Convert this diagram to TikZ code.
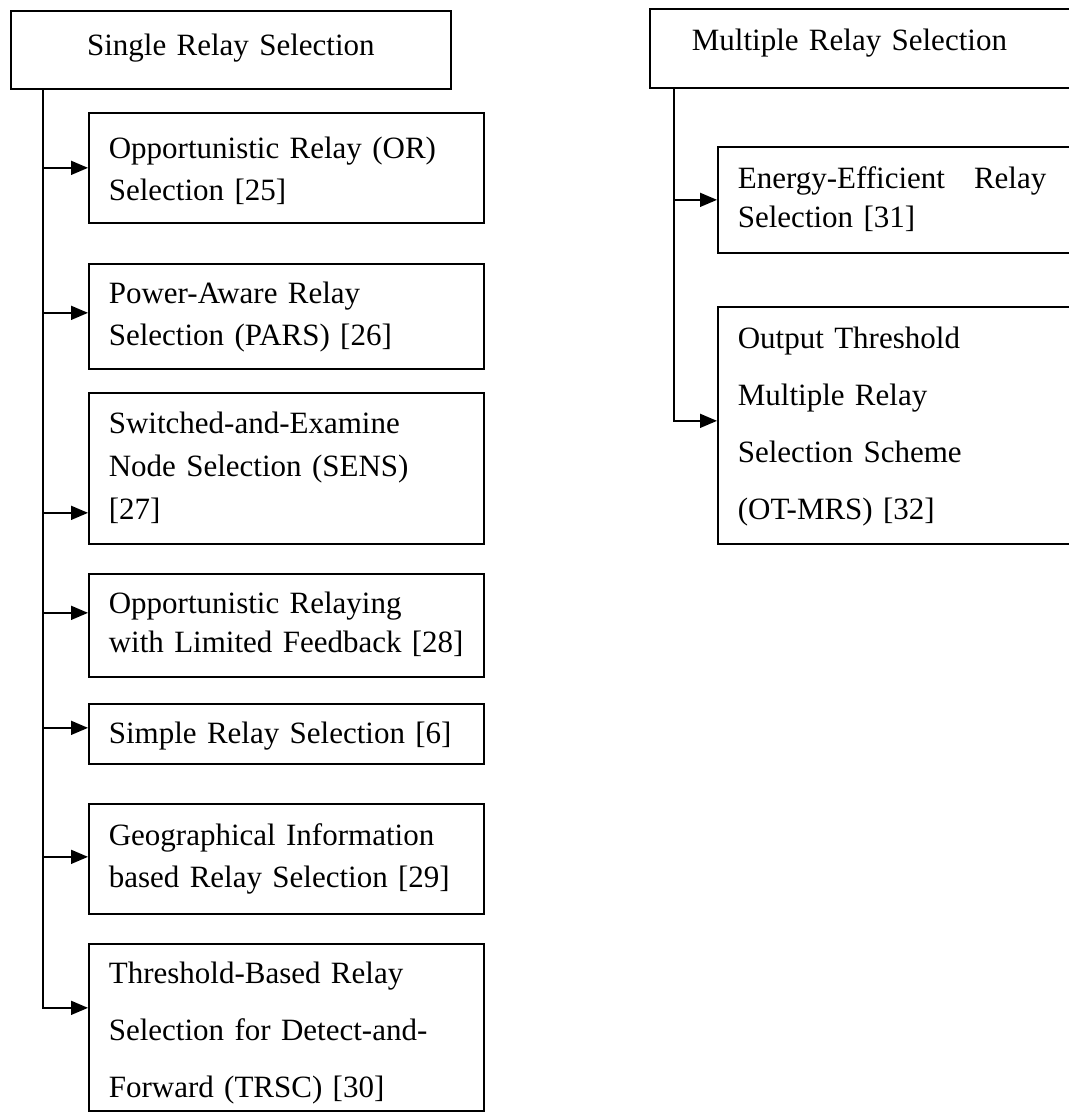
\documentclass[tikz,border=0pt]{standalone}
\usepackage{fontspec}
\setmainfont{Liberation Serif}
\usetikzlibrary{arrows.meta}
\begin{document}
\begin{tikzpicture}[x=1pt,y=-1pt,
  box/.style={draw, line width=1.7pt, rectangle, anchor=north west,
    inner xsep=20pt, inner ysep=0pt, align=left,
    font=\fontsize{31}{42}\selectfont},
  % text height = first baseline below the top edge, text depth = the rest
  lines/.style 2 args={text height=#1, text depth=#2},
  airy/.style={font=\fontsize{31}{57}\selectfont},
  close/.style={font=\fontsize{31}{39}\selectfont},
  arr/.style={line width=1.6pt, -{Triangle[length=17pt,width=14pt]}},
]
\useasboundingbox (0,0) rectangle (1069,1120);
\clip (0,0) rectangle (1069,1120);

% ---- single relay selection branch ----
\node[box, align=center, text width=400pt, lines={45pt}{33pt}] (single) at (10,10)
  {Single Relay Selection};
\node[box, text width=355pt, lines={46pt}{64pt}] (or) at (88,112)
  {Opportunistic Relay (OR)\\Selection [25]};
\node[box, text width=355pt, lines={40pt}{65pt}] (pars) at (88,263)
  {Power-Aware Relay\\Selection (PARS) [26]};
\node[box, text width=355pt, font=\fontsize{31}{43}\selectfont, lines={41pt}{110pt}] (sens) at (88,392)
  {Switched-and-Examine\\Node Selection (SENS)\\{[27]}};
\node[box, close, text width=355pt, lines={40pt}{63pt}] (lf) at (88,573)
  {Opportunistic Relaying\\with Limited Feedback [28]};
\node[box, text width=355pt, lines={40pt}{20pt}] (simple) at (88,703)
  {Simple Relay Selection [6]};
\node[box, text width=355pt, lines={42pt}{68pt}] (geo) at (88,803)
  {Geographical Information\\based Relay Selection [29]};
\node[box, airy, text width=355pt, lines={40pt}{127pt}] (trsc) at (88,943)
  {Threshold-Based Relay\\Selection for Detect-and-\\Forward (TRSC) [30]};

% ---- multiple relay selection branch ----
\node[box, inner xsep=42pt, text width=347pt, lines={42pt}{37pt}] (multi) at (649,8)
  {Multiple Relay Selection};
\node[box, close, text width=318pt, lines={42pt}{64pt}] (energy) at (717,146)
  {Energy-Efficient\hspace{29pt}Relay\\Selection [31]};
\node[box, airy, text width=318pt, lines={42pt}{195pt}] (ot) at (717,306)
  {Output Threshold\\Multiple Relay\\Selection Scheme\\(OT-MRS) [32]};

% ---- bus lines and arrow targets ----
\coordinate (sbus) at ([xshift=33pt]single.south west);
\coordinate (mbus) at ([xshift=25pt]multi.south west);

\coordinate (or-in)     at (or.west);
\coordinate (pars-in)   at ([yshift=3.5pt]pars.west);
\coordinate (sens-in)   at ([yshift=-44.5pt]sens.west);
\coordinate (lf-in)     at ([yshift=12.5pt]lf.west);
\coordinate (simple-in) at ([yshift=6pt]simple.west);
\coordinate (geo-in)    at ([yshift=2pt]geo.west);
\coordinate (trsc-in)   at ([yshift=19.5pt]trsc.west);
\coordinate (energy-in) at (energy.west);
\coordinate (ot-in)     at ([yshift=4.5pt]ot.west);

\draw[arr] (sbus) |- (trsc-in);
\foreach \t in {or,pars,sens,lf,simple,geo}
  \draw[arr] (sbus |- \t-in) -- (\t-in);

\draw[arr] (mbus) |- (ot-in);
\draw[arr] (mbus |- energy-in) -- (energy-in);
\end{tikzpicture}
\end{document}
